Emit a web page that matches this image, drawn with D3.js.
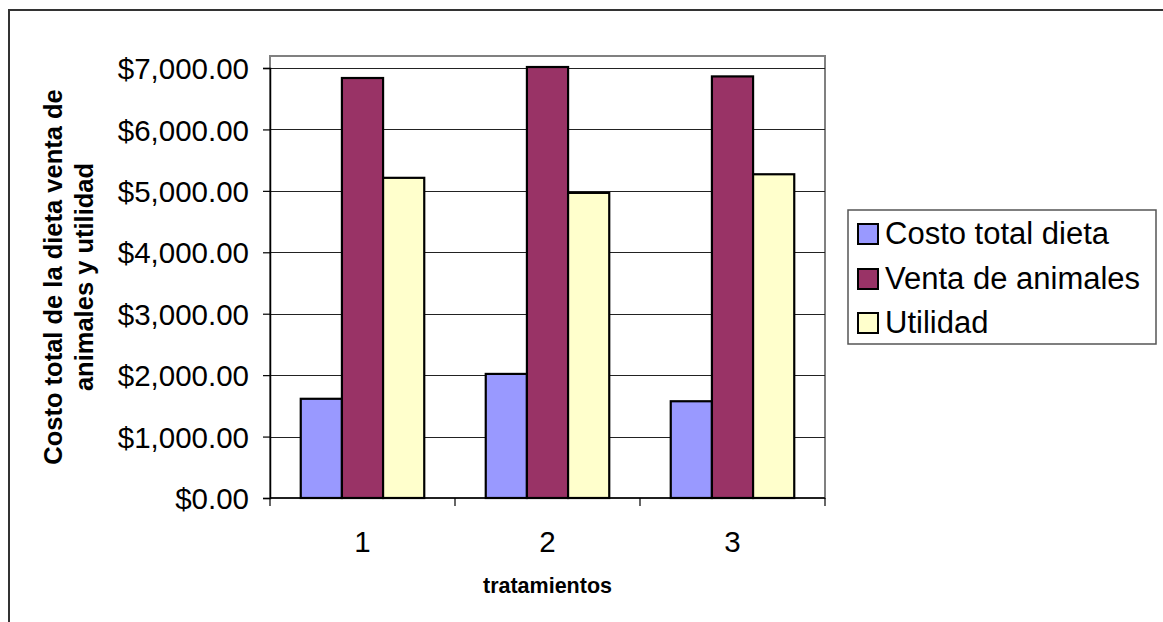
<!DOCTYPE html>
<html>
<head>
<meta charset="utf-8">
<script src="https://cdn.jsdelivr.net/npm/d3@7"></script>
<style>
  html, body { margin: 0; padding: 0; background: #fff; }
  svg { display: block; font-family: "Liberation Sans", Arial, sans-serif; }
</style>
</head>
<body>
<svg id="chart" width="1163" height="622"></svg>
<script>
const categories = ["1", "2", "3"];
const seriesNames = ["Costo total dieta", "Venta de animales", "Utilidad"];
const costoTotalDieta = [1615, 2020, 1575];
const ventaAnimales = [6837, 7016, 6863];
const utilidad = [5212, 4967, 5270];
const seriesValues = [costoTotalDieta, ventaAnimales, utilidad];
const seriesColors = ["#9999FF", "#993366", "#FFFFCC"];
const yTicks = [0, 1000, 2000, 3000, 4000, 5000, 6000, 7000];
const xTitle = "tratamientos";
const yTitleLines = ["Costo total de la dieta venta de", "animales y utilidad"];

const svg = d3.select("#chart");

// outer chart border
svg.append("rect").attr("x", 9).attr("y", 10).attr("width", 1200).attr("height", 700)
  .attr("fill", "#fff").attr("stroke", "#333").attr("stroke-width", 2);

const plotL = 270, plotR = 825, plotTop = 56;
const y = d3.scaleLinear().domain([0, 7000]).range([498, 68]);
const x = d3.scaleBand().domain(categories).range([plotL, plotR]).paddingInner(0).paddingOuter(0);
const groupW = 123.5;
const xs = d3.scaleBand().domain(seriesNames).range([-groupW / 2, groupW / 2]);

// plot area frame
svg.append("rect").attr("x", plotL).attr("y", plotTop).attr("width", plotR - plotL).attr("height", y(0) - plotTop)
  .attr("fill", "#fff").attr("stroke", "#808080").attr("stroke-width", 2);

// gridlines
svg.append("g").selectAll("line").data(yTicks.filter(d => d > 0)).join("line")
  .attr("x1", plotL).attr("x2", plotR)
  .attr("y1", d => Math.round(y(d)) + 0.5).attr("y2", d => Math.round(y(d)) + 0.5)
  .attr("stroke", "#222").attr("stroke-width", 1.2);

// y axis
const yAxis = d3.axisLeft(y).tickValues(yTicks).tickSize(7).tickPadding(14)
  .tickFormat(d => "$" + d3.format(",.2f")(d));
const gy = svg.append("g").attr("transform", `translate(${plotL},0)`).call(yAxis);
gy.select(".domain").attr("stroke", "#000").attr("stroke-width", 1.5);
gy.selectAll(".tick line").attr("stroke", "#000").attr("stroke-width", 1.2);
gy.selectAll(".tick text").attr("font-size", 29.5).attr("fill", "#000")
  .attr("font-family", "Liberation Sans, Arial, sans-serif").attr("dy", "0.36em");

// bars
const groups = svg.append("g").selectAll("g").data(categories).join("g")
  .attr("transform", d => `translate(${x(d) + x.bandwidth() / 2},0)`);
groups.selectAll("rect").data((c, ci) => seriesNames.map((s, si) => ({ s, si, v: seriesValues[si][ci] })))
  .join("rect")
  .attr("x", d => xs(d.s)).attr("width", xs.bandwidth())
  .attr("y", d => y(d.v)).attr("height", d => y(0) - y(d.v))
  .attr("fill", d => seriesColors[d.si]).attr("stroke", "#000").attr("stroke-width", 2.2);

// x axis
const gx = svg.append("g").attr("transform", `translate(0,${y(0)})`);
gx.append("line").attr("x1", plotL).attr("x2", plotR).attr("y1", 0).attr("y2", 0)
  .attr("stroke", "#000").attr("stroke-width", 1.5);
const bounds = categories.map(c => x(c)).concat([plotR]);
gx.selectAll("line.tk").data(bounds).join("line").attr("class", "tk")
  .attr("x1", d => d).attr("x2", d => d).attr("y1", 0).attr("y2", 8)
  .attr("stroke", "#000").attr("stroke-width", 1.2);
gx.selectAll("text").data(categories).join("text")
  .attr("x", d => x(d) + x.bandwidth() / 2).attr("y", 552 - y(0))
  .attr("text-anchor", "middle").attr("font-size", 29.5).attr("fill", "#000").text(d => d);

// x title
svg.append("text").attr("x", (plotL + plotR) / 2).attr("y", 593).attr("text-anchor", "middle")
  .attr("font-size", 21.5).attr("font-weight", "bold").attr("fill", "#000").text(xTitle);

// y title
const yt = svg.append("text").attr("transform", "translate(0,277) rotate(-90)")
  .attr("text-anchor", "middle").attr("font-size", 25.5).attr("font-weight", "bold").attr("fill", "#000");
yTitleLines.forEach((t, i) => {
  yt.append("tspan").attr("x", 0).attr("y", 62 + i * 31).text(t);
});

// legend
const lg = svg.append("g");
lg.append("rect").attr("x", 848).attr("y", 210).attr("width", 308).attr("height", 134)
  .attr("fill", "#fff").attr("stroke", "#555").attr("stroke-width", 1.5);
const baselines = [244, 289, 333];
const items = lg.selectAll("g").data(seriesNames).join("g");
items.append("rect").attr("x", 858).attr("y", (d, i) => baselines[i] - 20).attr("width", 20).attr("height", 20)
  .attr("fill", (d, i) => seriesColors[i]).attr("stroke", "#000").attr("stroke-width", 2);
items.append("text").attr("x", 885).attr("y", (d, i) => baselines[i])
  .attr("font-size", 31).attr("fill", "#000").text(d => d);
</script>
</body>
</html>
